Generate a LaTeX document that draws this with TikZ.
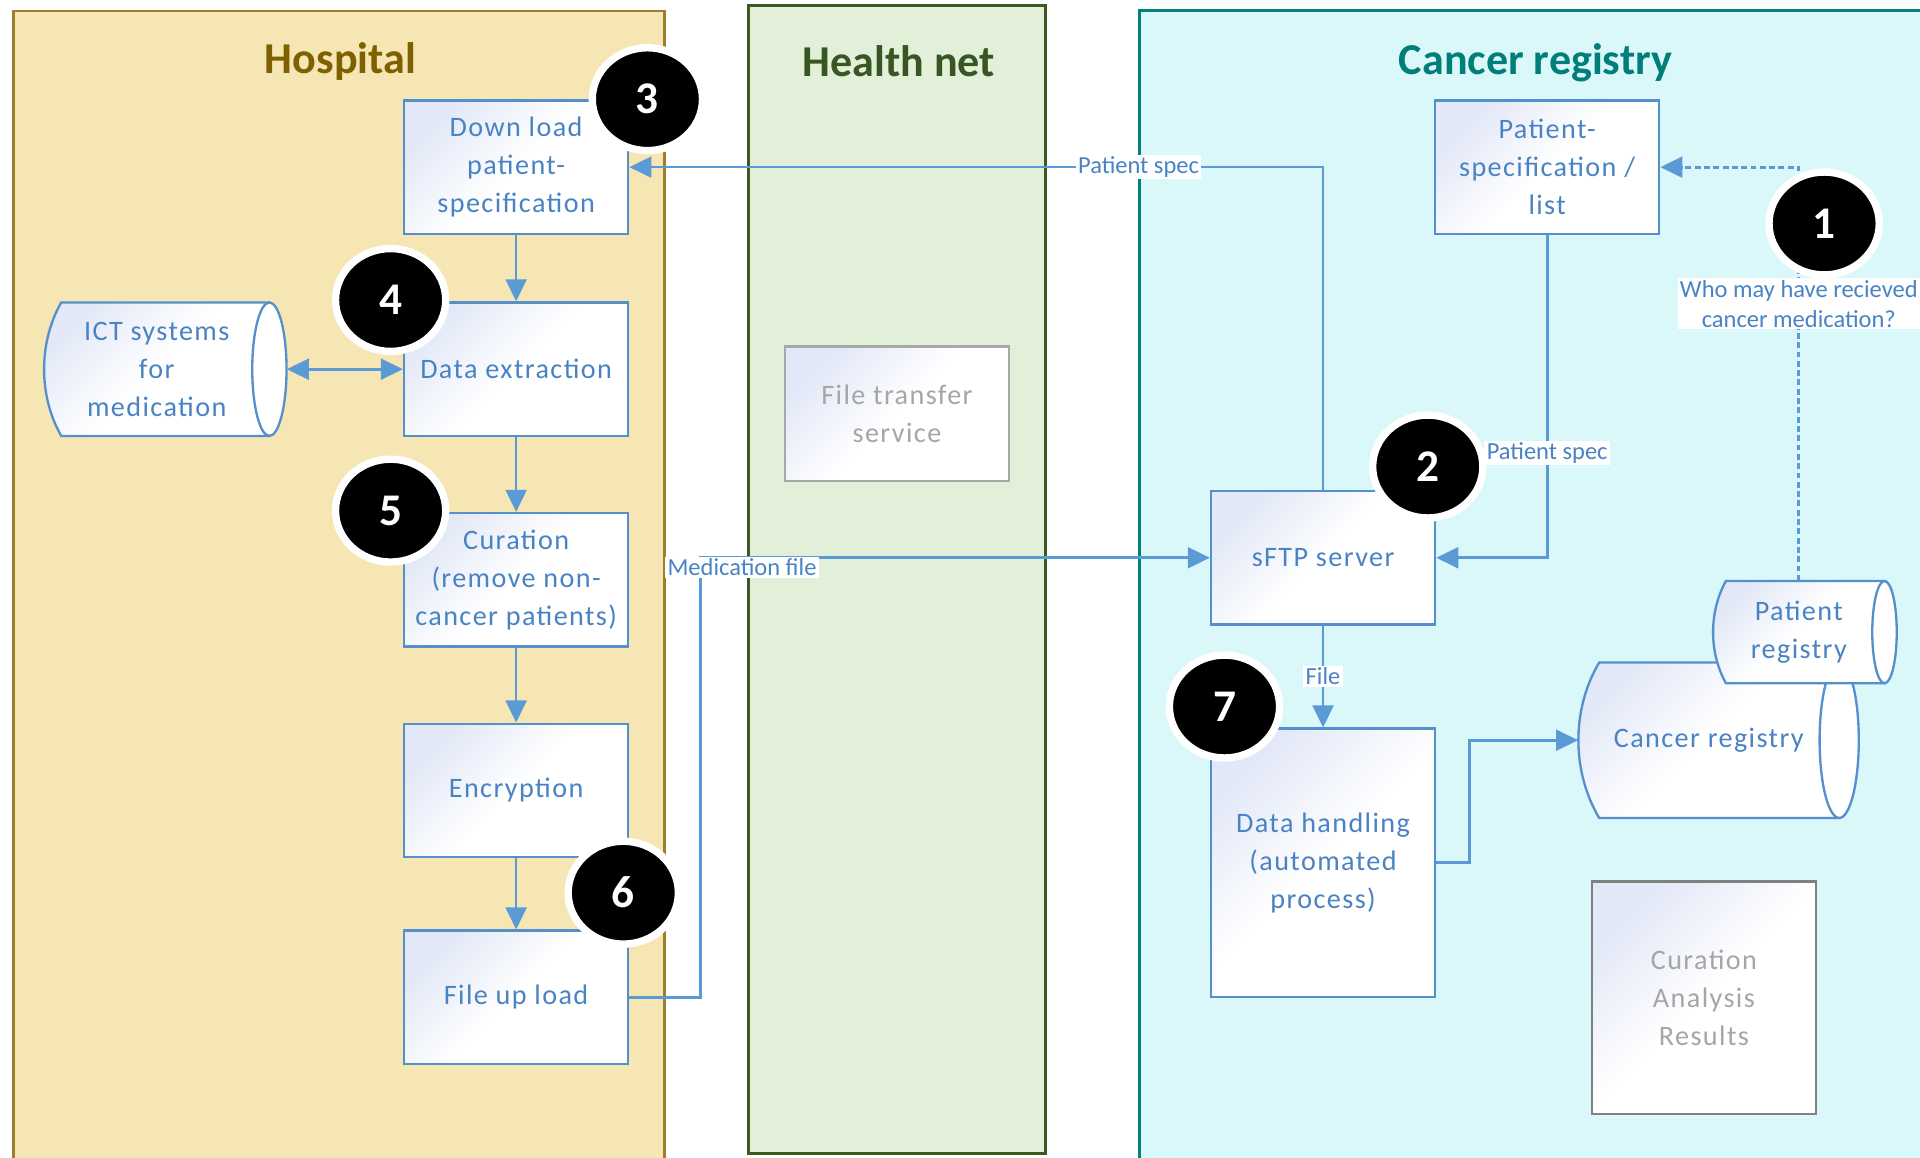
\documentclass[tikz,border=0pt]{standalone}
\usepackage{fontspec}
\setmainfont{Carlito}
\newfontfamily\boxfont{Carlito}[LetterSpace=5]
\usetikzlibrary{arrows.meta,shapes.geometric,calc}

\definecolor{hospfill}{HTML}{F6E6B3}
\definecolor{hospedge}{HTML}{9C7E2C}
\definecolor{hosptitle}{HTML}{7F6000}
\definecolor{netfill}{HTML}{E2EFD9}
\definecolor{netedge}{HTML}{3B5A22}
\definecolor{nettitle}{HTML}{375623}
\definecolor{regfill}{HTML}{DAF7F9}
\definecolor{regedge}{HTML}{00817C}
\definecolor{regtitle}{HTML}{007F7A}
\definecolor{txtblue}{HTML}{4A83C4}
\definecolor{edgeblue}{HTML}{5590CD}
\definecolor{lineblue}{HTML}{5B9BD5}
\definecolor{tint}{HTML}{E2E8F7}
\definecolor{greytxt}{HTML}{A6A6A6}
\definecolor{greyedge}{HTML}{A8A8A8}
\definecolor{darkgreyedge}{HTML}{808080}

% horizontal storage cylinder: left x, top y, cap centre x, bottom y, left bulge, cap half-width
\newcommand\storecyl[6]{%
  \path[cylbody] ({#1+#5},#2) -- (#3,#2) -- (#3,#4) -- ({#1+#5},#4)
    .. controls ({#1-#5/3},{#4-(#4-#2)*0.3}) and ({#1-#5/3},{#2+(#4-#2)*0.3}) .. cycle;
  \filldraw[fill=white,draw=edgeblue,line width=1.9pt]
    (#3,{(#2+#4)/2}) ellipse [x radius=#6, y radius={(#4-#2)/2}];
}

\begin{document}
\begin{tikzpicture}[x=1pt,y=-1pt,
  lane/.style={line width=2.3pt},
  lanetitle/.style={anchor=base,font=\fontsize{36}{40}\selectfont\bfseries},
  softfill/.style={top color=tint,bottom color=white,middle color=white,shading angle=45},
  process/.style={draw=edgeblue,line width=1.9pt,softfill,
    minimum width=183pt,minimum height=109pt,inner sep=0pt,
    align=center,text=txtblue,font=\boxfont\fontsize{23}{31}\selectfont},
  cylbody/.style={draw=edgeblue,line width=1.9pt,softfill},
  cyltext/.style={inner sep=0pt,align=center,text=txtblue,
    font=\boxfont\fontsize{23}{31}\selectfont},
  conn/.style={draw=lineblue,line width=2.2pt,-{Triangle[length=18pt,width=17pt]}},
  dconn/.style={draw=lineblue,line width=2.2pt,
    {Triangle[length=18pt,width=17pt]}-{Triangle[length=18pt,width=17pt]}},
  dotconn/.style={draw=lineblue,line width=2.3pt,dash pattern=on 4.8pt off 2.8pt,
    -{Triangle[length=18pt,width=17pt]}},
  lbl/.style={fill=white,inner xsep=2pt,inner ysep=1.5pt,text=txtblue,
    font=\fontsize{20}{24.5}\selectfont},
  numc/.style={ellipse,fill=black,draw=white,line width=6pt,minimum width=90pt,
    minimum height=84pt,inner sep=0pt,text=white,
    font=\fontsize{37}{40}\selectfont\bfseries}
]
\useasboundingbox (0,0) rectangle (1568,945);

% swim lanes
\draw[lane,draw=hospedge,fill=hospfill] (11,9) rectangle (542.5,965);
\draw[lane,draw=netedge,fill=netfill] (611.5,4.5) rectangle (854,942);
\draw[lane,draw=regedge,fill=regfill] (930.5,8.5) rectangle (1600,965);

\node[lanetitle,text=hosptitle] (thosp) at (278,60) {Hospital};
\node[lanetitle,text=nettitle] (tnet) at (734,62.5) {Health net};
\node[lanetitle,text=regtitle] (treg) at (1254,60.5) {Cancer registry};

% hospital steps
\node[process] (dl) at (421.5,136.5) {Down load\\patient-\\specification};
\node[process] (dx) at (421.5,301.5) {Data extraction};
\node[process] (cu) at (421.5,473.5) {Curation\\(remove non-\\cancer patients)};
\node[process] (en) at (421.5,645.5) {Encryption};
\node[process] (fu) at (421.5,814.5) {File up load};

% health net
\node[process,draw=greyedge,text=greytxt,minimum height=110pt] (fts) at (732.5,338) {File transfer\\service};

% cancer registry steps
\node[process] (ps) at (1263.5,136.5) {Patient-\\specification /\\list};
\node[process] (sftp) at (1080.5,455.5) {sFTP server};
\node[process,minimum height=219pt] (dh) at (1080.5,704.5) {Data handling\\(automated\\process)};
\node[process,draw=darkgreyedge,text=greytxt,minimum height=190pt] (car) at (1391.5,815) {Curation\\Analysis\\Results};

% data stores
\storecyl{36}{247}{220}{356}{14}{14}
\node[cyltext,minimum width=184pt,minimum height=109pt] (ict) at (128,301.5) {ICT systems\\for\\medication};
\storecyl{1289}{541}{1502}{668}{17}{16}
\node[cyltext,minimum width=213pt,minimum height=127pt] (cr) at (1395.5,604.5) {Cancer registry};
\storecyl{1399}{474.5}{1539}{558}{10.5}{10}
\node[cyltext,minimum width=140pt,minimum height=83.5pt] (pr) at (1469,516.25) {Patient\\registry};

% flows
\coordinate (medx) at (572,0);
\coordinate (crx) at (1200,0);
\draw[conn] (sftp.north) |- (dl.east) node[lbl,pos=0.633] (lps1) {Patient spec};
\draw[conn] (ps.south) |- (sftp.east) node[lbl,pos=0.338] (lps2) {Patient spec};
\draw[dotconn] (pr.north) |- (ps.east)
  node[lbl,pos=0.335,align=center] (lwho) {Who may have recieved\\cancer medication?};
\draw[conn] (dl.south) -- (dx.north);
\draw[dconn] ([xshift=14pt]ict.east) -- (dx.west);
\draw[conn] (dx.south) -- (cu.north);
\draw[conn] (cu.south) -- (en.north);
\draw[conn] (en.south) -- (fu.north);
\draw[conn] (fu.east) -- (fu.east -| medx) |- (sftp.west);
\node[lbl] (lmed) at (606,463.5) {Medication file};
\draw[conn] (sftp.south) -- (dh.north) node[lbl,midway] (lfile) {File};
\draw[conn] (dh.east) -- (dh.east -| crx) |- (cr.west);

% step numbers
\node[numc] (n1) at (1489.7,182.5) {1};
\node[numc] (n2) at (1166,381) {2};
\node[numc] (n3) at (528.7,81) {3};
\node[numc] (n4) at (319,245) {4};
\node[numc] (n5) at (319,417) {5};
\node[numc] (n6) at (509,729) {6};
\node[numc] (n7) at (1000,577) {7};
\end{tikzpicture}
\end{document}
